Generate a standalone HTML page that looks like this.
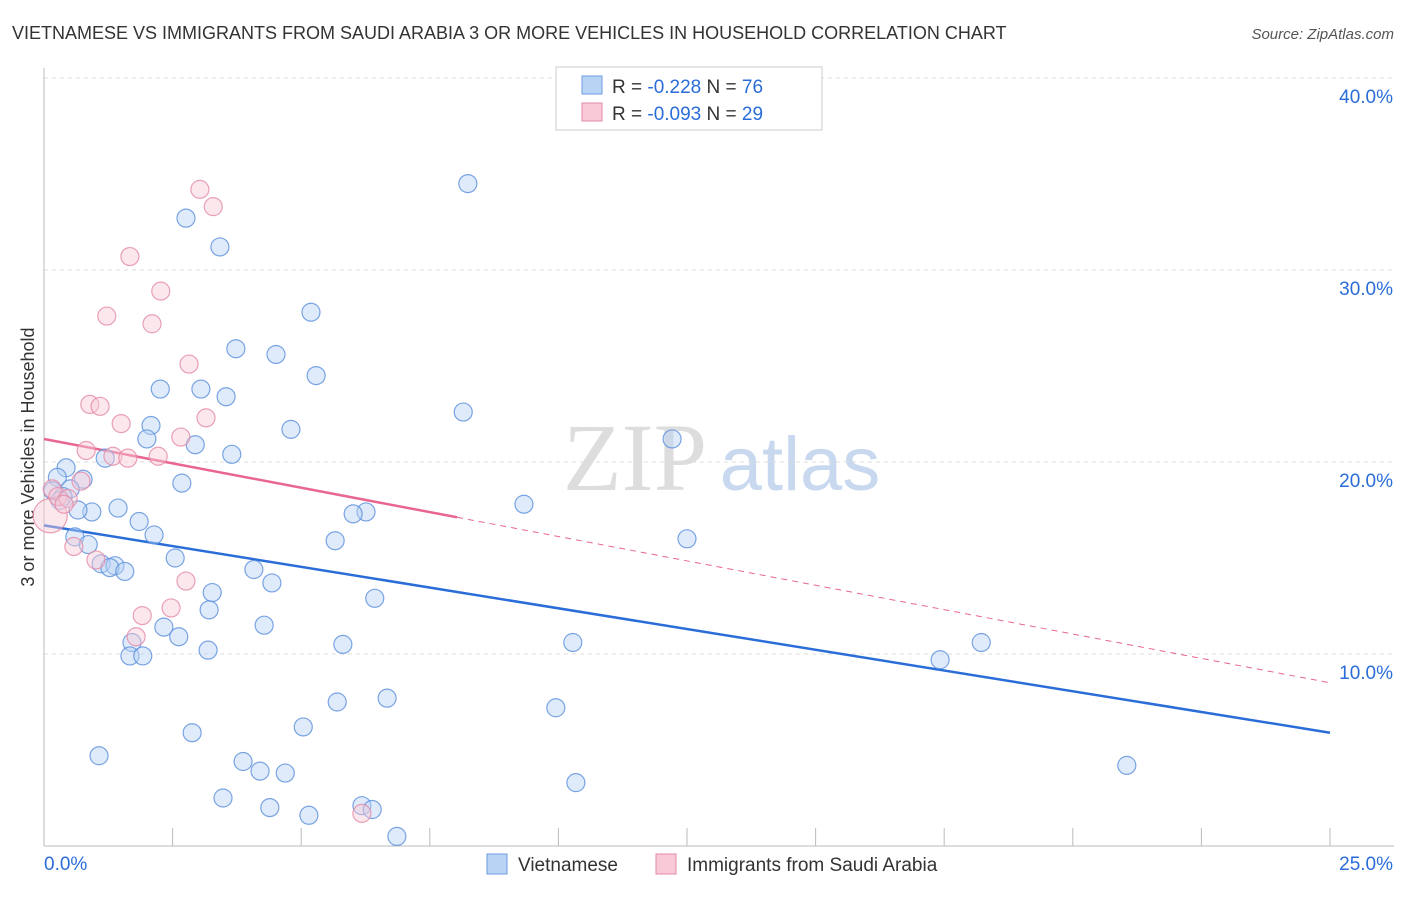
<!DOCTYPE html>
<html><head><meta charset="utf-8"><style>
body{margin:0;background:#fff;font-family:"Liberation Sans",sans-serif;}
</style></head><body>
<svg width="1406" height="892" xmlns="http://www.w3.org/2000/svg" font-family="Liberation Sans, sans-serif">
<text x="12" y="39" font-size="18" fill="#333">VIETNAMESE VS IMMIGRANTS FROM SAUDI ARABIA 3 OR MORE VEHICLES IN HOUSEHOLD CORRELATION CHART</text>
<text x="1394" y="39" font-size="15" fill="#555" font-style="italic" text-anchor="end">Source: ZipAtlas.com</text>
<g><text x="635" y="490" font-size="96" fill="#ddd" font-family="Liberation Serif, serif" text-anchor="middle">ZIP</text><text x="800" y="490" font-size="76" fill="#c8d8ef" text-anchor="middle">atlas</text></g>
<g id="grid"></g>
<g id="axes"></g>
<text transform="translate(34,457) rotate(-90)" font-size="18" fill="#333" text-anchor="middle">3 or more Vehicles in Household</text>
<g id="lines"></g>
<g id="pts"></g>
<g>
<rect x="556" y="67" width="266" height="63" fill="#fff" stroke="#ccc"/>
<rect x="582" y="76" width="20" height="18" fill="#b9d3f5" stroke="#6a9be0"/>
<text x="612" y="93" font-size="19" fill="#333">R = <tspan fill="#2a6dd9">-0.228</tspan>   N = <tspan fill="#2a6dd9">76</tspan></text>
<rect x="582" y="103" width="20" height="18" fill="#f9c9d7" stroke="#e48aa6"/>
<text x="612" y="120" font-size="19" fill="#333">R = <tspan fill="#2a6dd9">-0.093</tspan>   N = <tspan fill="#2a6dd9">29</tspan></text>
</g>
<g>
<rect x="487" y="854" width="20" height="20" fill="#b9d3f5" stroke="#6a9be0"/>
<text x="518" y="871" font-size="19" fill="#333">Vietnamese</text>
<rect x="656" y="854" width="20" height="20" fill="#f9c9d7" stroke="#e48aa6"/>
<text x="687" y="871" font-size="19" fill="#333">Immigrants from Saudi Arabia</text>
</g>
</svg>
<script>
const blueX=[8.24,2.76,3.42,5.19,3.73,4.51,5.29,2.26,3.05,3.54,8.15,2.08,4.80,2.00,12.21,2.94,3.65,1.19,0.43,0.26,0.76,2.68,0.51,0.17,0.37,0.31,9.33,1.44,0.93,0.66,6.26,6.01,1.85,2.14,0.60,0.86,5.66,12.50,2.55,1.11,1.38,1.28,1.57,4.08,4.43,3.27,6.43,3.21,2.33,4.28,2.62,1.71,5.81,10.28,18.22,3.19,1.67,1.92,17.42,6.67,5.70,9.95,5.04,2.88,1.07,21.05,3.87,4.20,4.69,10.34,3.48,4.39,6.18,6.38,5.15,6.86];
const blueY=[34.5,32.7,31.2,27.8,25.9,25.6,24.5,23.8,23.8,23.4,22.6,21.9,21.7,21.2,21.2,20.9,20.4,20.2,19.7,19.2,19.1,18.9,18.6,18.5,18.2,18.0,17.8,17.6,17.4,17.5,17.4,17.3,16.9,16.2,16.1,15.7,15.9,16.0,15.0,14.7,14.6,14.5,14.3,14.4,13.7,13.2,12.9,12.3,11.4,11.5,10.9,10.6,10.5,10.6,10.6,10.2,9.9,9.9,9.7,7.7,7.5,7.2,6.2,5.9,4.7,4.2,4.4,3.9,3.8,3.3,2.5,2.0,2.1,1.9,1.6,0.5];
const pinkX=[3.03,3.29,1.67,2.27,1.22,2.10,2.82,0.89,1.09,3.15,1.50,2.66,0.82,1.34,1.63,2.22,0.72,0.16,0.12,0.27,0.47,0.39,0.58,1.01,2.76,2.47,1.91,1.79,6.18];
const pinkY=[34.2,33.3,30.7,28.9,27.6,27.2,25.1,23.0,22.9,22.3,22.0,21.3,20.6,20.3,20.2,20.3,19.0,18.6,17.2,18.2,18.1,17.8,15.6,14.9,13.8,12.4,12.0,10.9,1.7];
const blueTrend=[16.7,5.9];
const pinkTrend=[21.2,8.5];
const pinkSolidEnd=8.03;
const xTicks=[0,2.5,5,7.5,10,12.5,15,17.5,20,22.5,25];
const yTicks=[10,20,30,40];
const yTickLabels=["10.0%","20.0%","30.0%","40.0%"];
const NS="http://www.w3.org/2000/svg";
const sx=v=>44+v/25*1286, sy=v=>846-v*19.2;
function mk(tag,attrs,parent){const e=document.createElementNS(NS,tag);for(const k in attrs)e.setAttribute(k,attrs[k]);parent.appendChild(e);return e;}
const grid=document.getElementById('grid'),axes=document.getElementById('axes'),lines=document.getElementById('lines'),pts=document.getElementById('pts');
yTicks.forEach((t,i)=>{
 const l=mk('line',{x1:44,x2:1394,y1:sy(t),y2:sy(t),stroke:'#ddd','stroke-dasharray':'4,4'},grid);
 
 
 const tx=mk('text',{x:1393,y:sy(t)+25,'font-size':19,fill:'#2a6dd9','text-anchor':'end'},axes);
 tx.textContent=yTickLabels[i];
 
 
});
const ax=mk('line',{x1:44,x2:1394,y1:846,y2:846,stroke:'#bbb'},axes);


const ay=mk('line',{x1:44,x2:44,y1:68,y2:846,stroke:'#bbb'},axes);


xTicks.forEach(t=>{const l=mk('line',{x1:sx(t),x2:sx(t),y1:828,y2:846,stroke:'#bbb'},axes);
 
 });
const x0=mk('text',{x:44,y:870,'font-size':19,fill:'#2a6dd9'},axes);x0.textContent='0.0%';


const x1=mk('text',{x:1393,y:870,'font-size':19,fill:'#2a6dd9','text-anchor':'end'},axes);x1.textContent='25.0%';


function drawPts(xs,ys,fill,stroke,name){xs.forEach((x,i)=>{
 const r=(name==='pink-point'&&i===18)?17:9;
 const c=mk('circle',{cx:sx(x),cy:sy(ys[i]),r:r,fill:fill,'fill-opacity':0.45,stroke:stroke,'stroke-width':1.2,'stroke-opacity':0.8},pts);
 
 });}
drawPts(blueX,blueY,'#b9d3f5','#5a8fdc','blue-point');
drawPts(pinkX,pinkY,'#f9c9d7','#e48aa6','pink-point');
const pAt=x=>pinkTrend[0]+(pinkTrend[1]-pinkTrend[0])*x/25;
const bl=mk('line',{x1:sx(0),y1:sy(blueTrend[0]),x2:sx(25),y2:sy(blueTrend[1]),stroke:'#2a6dd9','stroke-width':2.5},lines);


const pl=mk('line',{x1:sx(0),y1:sy(pAt(0)),x2:sx(pinkSolidEnd),y2:sy(pAt(pinkSolidEnd)),stroke:'#e8668f','stroke-width':2.5},lines);


const pd=mk('line',{x1:sx(pinkSolidEnd),y1:sy(pAt(pinkSolidEnd)),x2:sx(25),y2:sy(pAt(25)),stroke:'#e8668f','stroke-width':1,'stroke-dasharray':'6,5'},lines);


</script>
</body></html>
